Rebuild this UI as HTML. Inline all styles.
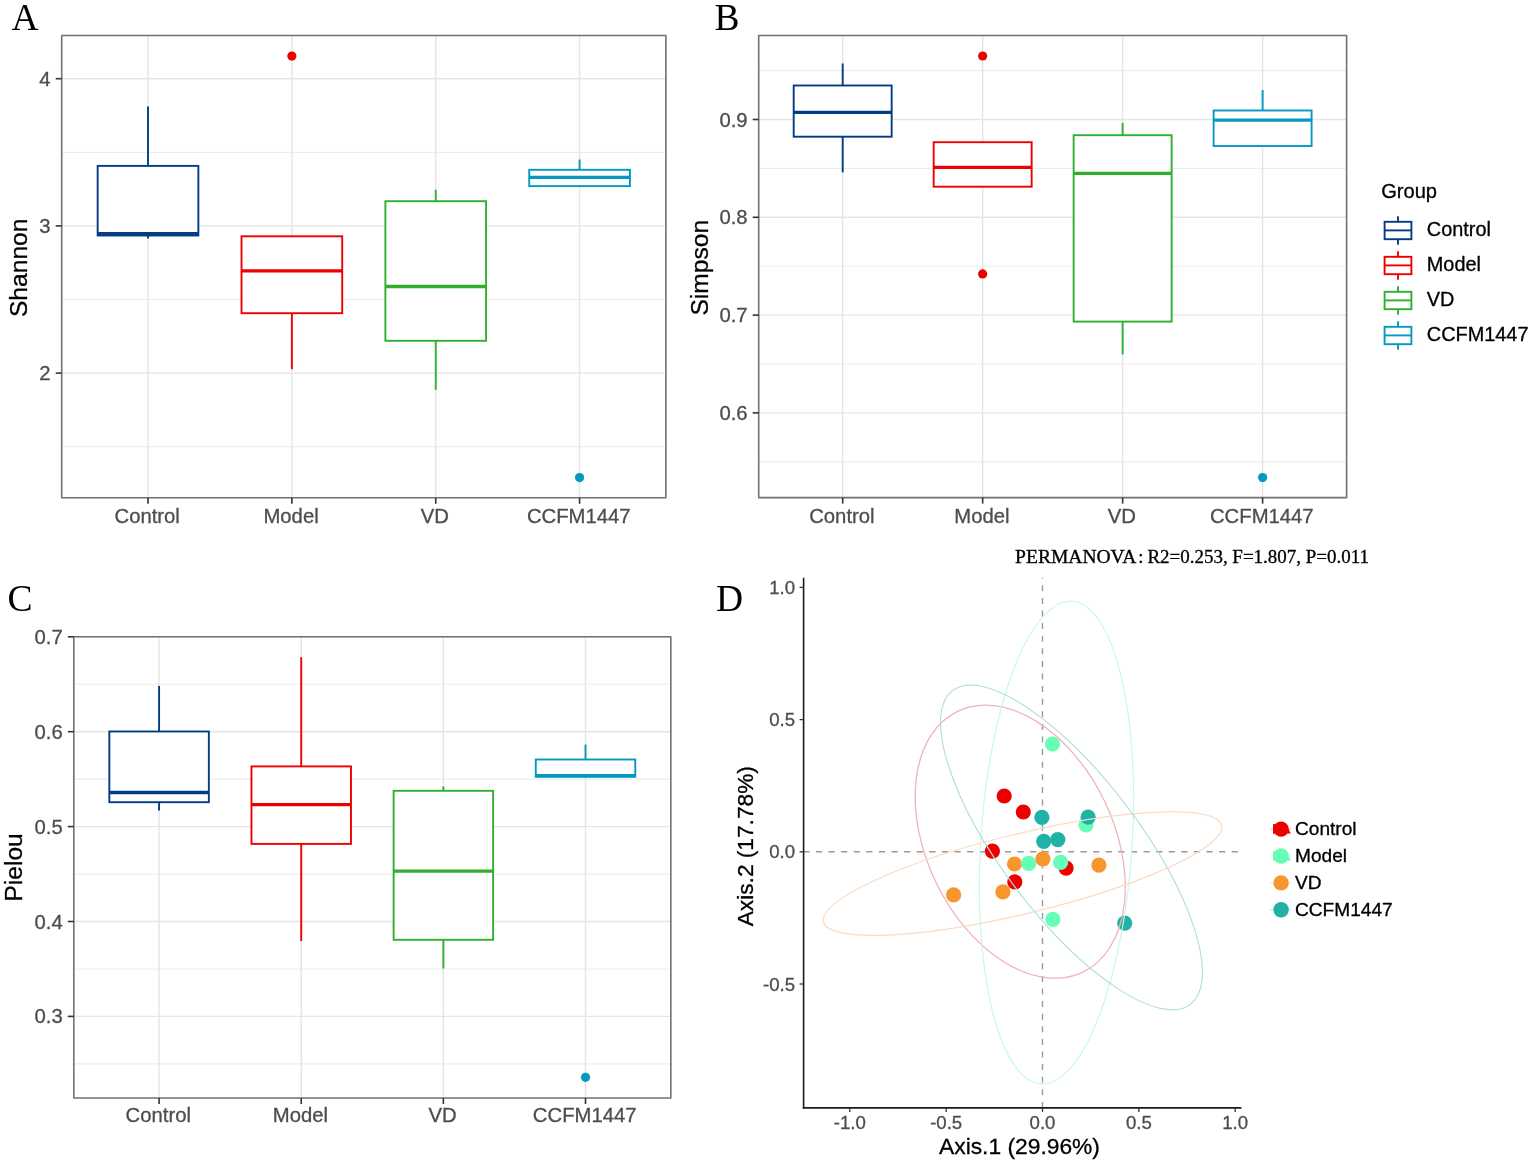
<!DOCTYPE html>
<html><head><meta charset="utf-8"><title>Figure</title>
<style>html,body{margin:0;padding:0;background:#fff;}svg{display:block;}</style></head>
<body><svg width="1535" height="1164" viewBox="0 0 1535 1164" font-family="'Liberation Sans', Arial, sans-serif">
<rect width="1535" height="1164" fill="#fff"/>
<line x1="61.7" x2="665.9" y1="446.7" y2="446.7" stroke="#ededed" stroke-width="1.15"/>
<line x1="61.7" x2="665.9" y1="299.5" y2="299.5" stroke="#ededed" stroke-width="1.15"/>
<line x1="61.7" x2="665.9" y1="152.3" y2="152.3" stroke="#ededed" stroke-width="1.15"/>
<line x1="61.7" x2="665.9" y1="373.1" y2="373.1" stroke="#e5e5e5" stroke-width="1.4"/>
<line x1="61.7" x2="665.9" y1="225.9" y2="225.9" stroke="#e5e5e5" stroke-width="1.4"/>
<line x1="61.7" x2="665.9" y1="78.7" y2="78.7" stroke="#e5e5e5" stroke-width="1.4"/>
<line x1="148.01" x2="148.01" y1="35.5" y2="497.8" stroke="#e5e5e5" stroke-width="1.4"/>
<line x1="291.87" x2="291.87" y1="35.5" y2="497.8" stroke="#e5e5e5" stroke-width="1.4"/>
<line x1="435.73" x2="435.73" y1="35.5" y2="497.8" stroke="#e5e5e5" stroke-width="1.4"/>
<line x1="579.59" x2="579.59" y1="35.5" y2="497.8" stroke="#e5e5e5" stroke-width="1.4"/>
<line x1="148.01" x2="148.01" y1="106.5" y2="165.9" stroke="#033c84" stroke-width="1.9"/>
<line x1="148.01" x2="148.01" y1="235.5" y2="238.5" stroke="#033c84" stroke-width="1.9"/>
<rect x="97.66" y="165.9" width="100.7" height="69.6" fill="#fff" stroke="#033c84" stroke-width="1.9"/>
<line x1="97.66" x2="198.36" y1="233.6" y2="233.6" stroke="#033c84" stroke-width="3.3"/>
<line x1="291.87" x2="291.87" y1="313.2" y2="369.2" stroke="#ee0000" stroke-width="1.9"/>
<rect x="241.52" y="236.3" width="100.7" height="76.9" fill="#fff" stroke="#ee0000" stroke-width="1.9"/>
<line x1="241.52" x2="342.22" y1="270.8" y2="270.8" stroke="#ee0000" stroke-width="3.3"/>
<circle cx="291.87" cy="56.1" r="4.6" fill="#ee0000"/>
<line x1="435.73" x2="435.73" y1="189.7" y2="201.2" stroke="#2eb02e" stroke-width="1.9"/>
<line x1="435.73" x2="435.73" y1="340.8" y2="389.8" stroke="#2eb02e" stroke-width="1.9"/>
<rect x="385.38" y="201.2" width="100.7" height="139.6" fill="#fff" stroke="#2eb02e" stroke-width="1.9"/>
<line x1="385.38" x2="486.08" y1="286.5" y2="286.5" stroke="#2eb02e" stroke-width="3.3"/>
<line x1="579.59" x2="579.59" y1="159.5" y2="169.8" stroke="#0399c0" stroke-width="1.9"/>
<rect x="529.24" y="169.8" width="100.7" height="16.3" fill="#fff" stroke="#0399c0" stroke-width="1.9"/>
<line x1="529.24" x2="629.94" y1="177.3" y2="177.3" stroke="#0399c0" stroke-width="3.3"/>
<circle cx="579.59" cy="477.6" r="4.6" fill="#0399c0"/>
<rect x="61.7" y="35.5" width="604.2" height="462.3" fill="none" stroke="#717171" stroke-width="1.6" stroke-linejoin="round"/>
<line x1="55.7" x2="61.7" y1="373.1" y2="373.1" stroke="#333333" stroke-width="1.6"/>
<text x="50.6" y="380.1" text-anchor="end" font-size="20.3" fill="#4d4d4d" stroke="#4d4d4d" stroke-width="0.3">2</text>
<line x1="55.7" x2="61.7" y1="225.9" y2="225.9" stroke="#333333" stroke-width="1.6"/>
<text x="50.6" y="232.9" text-anchor="end" font-size="20.3" fill="#4d4d4d" stroke="#4d4d4d" stroke-width="0.3">3</text>
<line x1="55.7" x2="61.7" y1="78.7" y2="78.7" stroke="#333333" stroke-width="1.6"/>
<text x="50.6" y="85.7" text-anchor="end" font-size="20.3" fill="#4d4d4d" stroke="#4d4d4d" stroke-width="0.3">4</text>
<line x1="148.01" x2="148.01" y1="497.8" y2="503.8" stroke="#333333" stroke-width="1.6"/>
<text x="147.21" y="522.9" text-anchor="middle" font-size="20.3" fill="#4d4d4d" stroke="#4d4d4d" stroke-width="0.3">Control</text>
<line x1="291.87" x2="291.87" y1="497.8" y2="503.8" stroke="#333333" stroke-width="1.6"/>
<text x="291.07" y="522.9" text-anchor="middle" font-size="20.3" fill="#4d4d4d" stroke="#4d4d4d" stroke-width="0.3">Model</text>
<line x1="435.73" x2="435.73" y1="497.8" y2="503.8" stroke="#333333" stroke-width="1.6"/>
<text x="434.93" y="522.9" text-anchor="middle" font-size="20.3" fill="#4d4d4d" stroke="#4d4d4d" stroke-width="0.3">VD</text>
<line x1="579.59" x2="579.59" y1="497.8" y2="503.8" stroke="#333333" stroke-width="1.6"/>
<text x="578.79" y="522.9" text-anchor="middle" font-size="20.3" fill="#4d4d4d" stroke="#4d4d4d" stroke-width="0.3">CCFM1447</text>
<text transform="translate(27,267.8) rotate(-90)" text-anchor="middle" font-size="24.6" fill="#000" stroke="#000" stroke-width="0.3">Shannon</text>
<line x1="758.7" x2="1346.6" y1="461.8" y2="461.8" stroke="#ededed" stroke-width="1.15"/>
<line x1="758.7" x2="1346.6" y1="364" y2="364" stroke="#ededed" stroke-width="1.15"/>
<line x1="758.7" x2="1346.6" y1="266.2" y2="266.2" stroke="#ededed" stroke-width="1.15"/>
<line x1="758.7" x2="1346.6" y1="168.4" y2="168.4" stroke="#ededed" stroke-width="1.15"/>
<line x1="758.7" x2="1346.6" y1="70.6" y2="70.6" stroke="#ededed" stroke-width="1.15"/>
<line x1="758.7" x2="1346.6" y1="412.9" y2="412.9" stroke="#e5e5e5" stroke-width="1.4"/>
<line x1="758.7" x2="1346.6" y1="315.1" y2="315.1" stroke="#e5e5e5" stroke-width="1.4"/>
<line x1="758.7" x2="1346.6" y1="217.3" y2="217.3" stroke="#e5e5e5" stroke-width="1.4"/>
<line x1="758.7" x2="1346.6" y1="119.5" y2="119.5" stroke="#e5e5e5" stroke-width="1.4"/>
<line x1="842.69" x2="842.69" y1="35.5" y2="497.6" stroke="#e5e5e5" stroke-width="1.4"/>
<line x1="982.66" x2="982.66" y1="35.5" y2="497.6" stroke="#e5e5e5" stroke-width="1.4"/>
<line x1="1122.64" x2="1122.64" y1="35.5" y2="497.6" stroke="#e5e5e5" stroke-width="1.4"/>
<line x1="1262.61" x2="1262.61" y1="35.5" y2="497.6" stroke="#e5e5e5" stroke-width="1.4"/>
<line x1="842.69" x2="842.69" y1="63.4" y2="85.5" stroke="#033c84" stroke-width="1.9"/>
<line x1="842.69" x2="842.69" y1="136.7" y2="172.4" stroke="#033c84" stroke-width="1.9"/>
<rect x="793.69" y="85.5" width="97.98" height="51.2" fill="#fff" stroke="#033c84" stroke-width="1.9"/>
<line x1="793.69" x2="891.68" y1="112.4" y2="112.4" stroke="#033c84" stroke-width="3.3"/>
<rect x="933.67" y="142.2" width="97.98" height="44.5" fill="#fff" stroke="#ee0000" stroke-width="1.9"/>
<line x1="933.67" x2="1031.65" y1="167.4" y2="167.4" stroke="#ee0000" stroke-width="3.3"/>
<circle cx="982.66" cy="56" r="4.6" fill="#ee0000"/>
<circle cx="982.66" cy="273.9" r="4.6" fill="#ee0000"/>
<line x1="1122.64" x2="1122.64" y1="123" y2="135.2" stroke="#2eb02e" stroke-width="1.9"/>
<line x1="1122.64" x2="1122.64" y1="321.6" y2="354.4" stroke="#2eb02e" stroke-width="1.9"/>
<rect x="1073.65" y="135.2" width="97.98" height="186.4" fill="#fff" stroke="#2eb02e" stroke-width="1.9"/>
<line x1="1073.65" x2="1171.63" y1="173.3" y2="173.3" stroke="#2eb02e" stroke-width="3.3"/>
<line x1="1262.61" x2="1262.61" y1="90.1" y2="110.5" stroke="#0399c0" stroke-width="1.9"/>
<rect x="1213.62" y="110.5" width="97.98" height="35.5" fill="#fff" stroke="#0399c0" stroke-width="1.9"/>
<line x1="1213.62" x2="1311.61" y1="120.2" y2="120.2" stroke="#0399c0" stroke-width="3.3"/>
<circle cx="1262.61" cy="477.6" r="4.6" fill="#0399c0"/>
<rect x="758.7" y="35.5" width="587.9" height="462.1" fill="none" stroke="#717171" stroke-width="1.6" stroke-linejoin="round"/>
<line x1="752.7" x2="758.7" y1="412.9" y2="412.9" stroke="#333333" stroke-width="1.6"/>
<text x="747.6" y="419.9" text-anchor="end" font-size="20.3" fill="#4d4d4d" stroke="#4d4d4d" stroke-width="0.3">0.6</text>
<line x1="752.7" x2="758.7" y1="315.1" y2="315.1" stroke="#333333" stroke-width="1.6"/>
<text x="747.6" y="322.1" text-anchor="end" font-size="20.3" fill="#4d4d4d" stroke="#4d4d4d" stroke-width="0.3">0.7</text>
<line x1="752.7" x2="758.7" y1="217.3" y2="217.3" stroke="#333333" stroke-width="1.6"/>
<text x="747.6" y="224.3" text-anchor="end" font-size="20.3" fill="#4d4d4d" stroke="#4d4d4d" stroke-width="0.3">0.8</text>
<line x1="752.7" x2="758.7" y1="119.5" y2="119.5" stroke="#333333" stroke-width="1.6"/>
<text x="747.6" y="126.5" text-anchor="end" font-size="20.3" fill="#4d4d4d" stroke="#4d4d4d" stroke-width="0.3">0.9</text>
<line x1="842.69" x2="842.69" y1="497.6" y2="503.6" stroke="#333333" stroke-width="1.6"/>
<text x="841.89" y="522.9" text-anchor="middle" font-size="20.3" fill="#4d4d4d" stroke="#4d4d4d" stroke-width="0.3">Control</text>
<line x1="982.66" x2="982.66" y1="497.6" y2="503.6" stroke="#333333" stroke-width="1.6"/>
<text x="981.86" y="522.9" text-anchor="middle" font-size="20.3" fill="#4d4d4d" stroke="#4d4d4d" stroke-width="0.3">Model</text>
<line x1="1122.64" x2="1122.64" y1="497.6" y2="503.6" stroke="#333333" stroke-width="1.6"/>
<text x="1121.84" y="522.9" text-anchor="middle" font-size="20.3" fill="#4d4d4d" stroke="#4d4d4d" stroke-width="0.3">VD</text>
<line x1="1262.61" x2="1262.61" y1="497.6" y2="503.6" stroke="#333333" stroke-width="1.6"/>
<text x="1261.81" y="522.9" text-anchor="middle" font-size="20.3" fill="#4d4d4d" stroke="#4d4d4d" stroke-width="0.3">CCFM1447</text>
<text transform="translate(707.6,267.7) rotate(-90)" text-anchor="middle" font-size="24.6" fill="#000" stroke="#000" stroke-width="0.3">Simpson</text>
<line x1="73.8" x2="670.8" y1="1063.85" y2="1063.85" stroke="#ededed" stroke-width="1.15"/>
<line x1="73.8" x2="670.8" y1="968.95" y2="968.95" stroke="#ededed" stroke-width="1.15"/>
<line x1="73.8" x2="670.8" y1="874.05" y2="874.05" stroke="#ededed" stroke-width="1.15"/>
<line x1="73.8" x2="670.8" y1="779.15" y2="779.15" stroke="#ededed" stroke-width="1.15"/>
<line x1="73.8" x2="670.8" y1="684.25" y2="684.25" stroke="#ededed" stroke-width="1.15"/>
<line x1="73.8" x2="670.8" y1="1016.4" y2="1016.4" stroke="#e5e5e5" stroke-width="1.4"/>
<line x1="73.8" x2="670.8" y1="921.5" y2="921.5" stroke="#e5e5e5" stroke-width="1.4"/>
<line x1="73.8" x2="670.8" y1="826.6" y2="826.6" stroke="#e5e5e5" stroke-width="1.4"/>
<line x1="73.8" x2="670.8" y1="731.7" y2="731.7" stroke="#e5e5e5" stroke-width="1.4"/>
<line x1="73.8" x2="670.8" y1="636.8" y2="636.8" stroke="#e5e5e5" stroke-width="1.4"/>
<line x1="159.09" x2="159.09" y1="636.7" y2="1098" stroke="#e5e5e5" stroke-width="1.4"/>
<line x1="301.23" x2="301.23" y1="636.7" y2="1098" stroke="#e5e5e5" stroke-width="1.4"/>
<line x1="443.37" x2="443.37" y1="636.7" y2="1098" stroke="#e5e5e5" stroke-width="1.4"/>
<line x1="585.51" x2="585.51" y1="636.7" y2="1098" stroke="#e5e5e5" stroke-width="1.4"/>
<line x1="159.09" x2="159.09" y1="685.9" y2="731.5" stroke="#033c84" stroke-width="1.9"/>
<line x1="159.09" x2="159.09" y1="802.2" y2="810.5" stroke="#033c84" stroke-width="1.9"/>
<rect x="109.34" y="731.5" width="99.5" height="70.7" fill="#fff" stroke="#033c84" stroke-width="1.9"/>
<line x1="109.34" x2="208.84" y1="792.5" y2="792.5" stroke="#033c84" stroke-width="3.3"/>
<line x1="301.23" x2="301.23" y1="657.2" y2="766.4" stroke="#ee0000" stroke-width="1.9"/>
<line x1="301.23" x2="301.23" y1="843.9" y2="941.1" stroke="#ee0000" stroke-width="1.9"/>
<rect x="251.48" y="766.4" width="99.5" height="77.5" fill="#fff" stroke="#ee0000" stroke-width="1.9"/>
<line x1="251.48" x2="350.98" y1="804.7" y2="804.7" stroke="#ee0000" stroke-width="3.3"/>
<line x1="443.37" x2="443.37" y1="786.5" y2="790.8" stroke="#2eb02e" stroke-width="1.9"/>
<line x1="443.37" x2="443.37" y1="939.8" y2="968.6" stroke="#2eb02e" stroke-width="1.9"/>
<rect x="393.62" y="790.8" width="99.5" height="149" fill="#fff" stroke="#2eb02e" stroke-width="1.9"/>
<line x1="393.62" x2="493.12" y1="871.2" y2="871.2" stroke="#2eb02e" stroke-width="3.3"/>
<line x1="585.51" x2="585.51" y1="744.6" y2="759.5" stroke="#0399c0" stroke-width="1.9"/>
<rect x="535.76" y="759.5" width="99.5" height="17.3" fill="#fff" stroke="#0399c0" stroke-width="1.9"/>
<line x1="535.76" x2="635.26" y1="775.6" y2="775.6" stroke="#0399c0" stroke-width="3.3"/>
<circle cx="585.51" cy="1077.3" r="4.6" fill="#0399c0"/>
<rect x="73.8" y="636.7" width="597" height="461.3" fill="none" stroke="#717171" stroke-width="1.6" stroke-linejoin="round"/>
<line x1="67.8" x2="73.8" y1="1016.4" y2="1016.4" stroke="#333333" stroke-width="1.6"/>
<text x="62.7" y="1023.4" text-anchor="end" font-size="20.3" fill="#4d4d4d" stroke="#4d4d4d" stroke-width="0.3">0.3</text>
<line x1="67.8" x2="73.8" y1="921.5" y2="921.5" stroke="#333333" stroke-width="1.6"/>
<text x="62.7" y="928.5" text-anchor="end" font-size="20.3" fill="#4d4d4d" stroke="#4d4d4d" stroke-width="0.3">0.4</text>
<line x1="67.8" x2="73.8" y1="826.6" y2="826.6" stroke="#333333" stroke-width="1.6"/>
<text x="62.7" y="833.6" text-anchor="end" font-size="20.3" fill="#4d4d4d" stroke="#4d4d4d" stroke-width="0.3">0.5</text>
<line x1="67.8" x2="73.8" y1="731.7" y2="731.7" stroke="#333333" stroke-width="1.6"/>
<text x="62.7" y="738.7" text-anchor="end" font-size="20.3" fill="#4d4d4d" stroke="#4d4d4d" stroke-width="0.3">0.6</text>
<line x1="67.8" x2="73.8" y1="636.8" y2="636.8" stroke="#333333" stroke-width="1.6"/>
<text x="62.7" y="643.8" text-anchor="end" font-size="20.3" fill="#4d4d4d" stroke="#4d4d4d" stroke-width="0.3">0.7</text>
<line x1="159.09" x2="159.09" y1="1098" y2="1104" stroke="#333333" stroke-width="1.6"/>
<text x="158.29" y="1122.4" text-anchor="middle" font-size="20.3" fill="#4d4d4d" stroke="#4d4d4d" stroke-width="0.3">Control</text>
<line x1="301.23" x2="301.23" y1="1098" y2="1104" stroke="#333333" stroke-width="1.6"/>
<text x="300.43" y="1122.4" text-anchor="middle" font-size="20.3" fill="#4d4d4d" stroke="#4d4d4d" stroke-width="0.3">Model</text>
<line x1="443.37" x2="443.37" y1="1098" y2="1104" stroke="#333333" stroke-width="1.6"/>
<text x="442.57" y="1122.4" text-anchor="middle" font-size="20.3" fill="#4d4d4d" stroke="#4d4d4d" stroke-width="0.3">VD</text>
<line x1="585.51" x2="585.51" y1="1098" y2="1104" stroke="#333333" stroke-width="1.6"/>
<text x="584.71" y="1122.4" text-anchor="middle" font-size="20.3" fill="#4d4d4d" stroke="#4d4d4d" stroke-width="0.3">CCFM1447</text>
<text transform="translate(22,867.4) rotate(-90)" text-anchor="middle" font-size="24.6" fill="#000" stroke="#000" stroke-width="0.3">Pielou</text>
<text x="1381.2" y="197.8" font-size="20.1" fill="#000" stroke="#000" stroke-width="0.3">Group</text>
<line x1="1398" x2="1398" y1="216.2" y2="244.8" stroke="#033c84" stroke-width="1.9"/>
<rect x="1384.6" y="221.8" width="26.8" height="17.4" fill="#fff" stroke="#033c84" stroke-width="1.9"/>
<line x1="1384.6" x2="1411.4" y1="230.4" y2="230.4" stroke="#033c84" stroke-width="1.9"/>
<text x="1426.8" y="236.2" font-size="19.9" fill="#000" stroke="#000" stroke-width="0.3">Control</text>
<line x1="1398" x2="1398" y1="251.2" y2="279.8" stroke="#ee0000" stroke-width="1.9"/>
<rect x="1384.6" y="256.8" width="26.8" height="17.4" fill="#fff" stroke="#ee0000" stroke-width="1.9"/>
<line x1="1384.6" x2="1411.4" y1="265.4" y2="265.4" stroke="#ee0000" stroke-width="1.9"/>
<text x="1426.8" y="271.2" font-size="19.9" fill="#000" stroke="#000" stroke-width="0.3">Model</text>
<line x1="1398" x2="1398" y1="286.2" y2="314.8" stroke="#2eb02e" stroke-width="1.9"/>
<rect x="1384.6" y="291.8" width="26.8" height="17.4" fill="#fff" stroke="#2eb02e" stroke-width="1.9"/>
<line x1="1384.6" x2="1411.4" y1="300.4" y2="300.4" stroke="#2eb02e" stroke-width="1.9"/>
<text x="1426.8" y="306.2" font-size="19.9" fill="#000" stroke="#000" stroke-width="0.3">VD</text>
<line x1="1398" x2="1398" y1="321.2" y2="349.8" stroke="#0399c0" stroke-width="1.9"/>
<rect x="1384.6" y="326.8" width="26.8" height="17.4" fill="#fff" stroke="#0399c0" stroke-width="1.9"/>
<line x1="1384.6" x2="1411.4" y1="335.4" y2="335.4" stroke="#0399c0" stroke-width="1.9"/>
<text x="1426.8" y="341.2" font-size="19.9" fill="#000" stroke="#000" stroke-width="0.3">CCFM1447</text>
<text x="11.5" y="30.2" font-size="37.5" font-family="'Liberation Serif', 'Times New Roman', serif" fill="#000">A</text>
<text x="714.5" y="30.2" font-size="37.5" font-family="'Liberation Serif', 'Times New Roman', serif" fill="#000">B</text>
<text x="7.5" y="610.6" font-size="37.5" font-family="'Liberation Serif', 'Times New Roman', serif" fill="#000">C</text>
<text x="716" y="611.3" font-size="37.5" font-family="'Liberation Serif', 'Times New Roman', serif" fill="#000">D</text>
<g font-family="'Liberation Serif', 'Times New Roman', serif" font-size="18.7" fill="#000" stroke="#000" stroke-width="0.3"><text x="1015.1" y="562.8" textLength="121.2" lengthAdjust="spacingAndGlyphs" stroke="#000" stroke-width="0.3">PERMANOVA</text><text x="1138.3" y="562.8" stroke="#000" stroke-width="0.3">:</text><text x="1147.4" y="562.8" textLength="221.6" lengthAdjust="spacingAndGlyphs" stroke="#000" stroke-width="0.3">R2=0.253, F=1.807, P=0.011</text></g>
<line x1="803.3" x2="1240" y1="851.8" y2="851.8" stroke="#9a9a9a" stroke-width="1.4" stroke-dasharray="6.2 6.4"/>
<line x1="1042.5" x2="1042.5" y1="1107.9" y2="577.8" stroke="#9a9a9a" stroke-width="1.4" stroke-dasharray="6 6.6"/>
<circle cx="1014.5" cy="864" r="7.6" fill="#f8962e"/>
<circle cx="1042.9" cy="858.9" r="7.6" fill="#f8962e"/>
<circle cx="1098.9" cy="865.1" r="7.6" fill="#f8962e"/>
<circle cx="1002.9" cy="891.9" r="7.6" fill="#f8962e"/>
<circle cx="953.6" cy="894.9" r="7.6" fill="#f8962e"/>
<circle cx="1004.2" cy="796" r="7.6" fill="#ef0000"/>
<circle cx="1023.3" cy="812" r="7.6" fill="#ef0000"/>
<circle cx="992.4" cy="851.1" r="7.6" fill="#ef0000"/>
<circle cx="1066.1" cy="868.1" r="7.6" fill="#ef0000"/>
<circle cx="1014.8" cy="881.9" r="7.6" fill="#ef0000"/>
<circle cx="1052.5" cy="744" r="7.6" fill="#66fdb6"/>
<circle cx="1086" cy="824.9" r="7.6" fill="#66fdb6"/>
<circle cx="1028.7" cy="863.3" r="7.6" fill="#66fdb6"/>
<circle cx="1060.6" cy="862.3" r="7.6" fill="#66fdb6"/>
<circle cx="1052.9" cy="919.4" r="7.6" fill="#66fdb6"/>
<circle cx="1041.9" cy="817.3" r="7.6" fill="#20b2a6"/>
<circle cx="1088.1" cy="817.2" r="7.6" fill="#20b2a6"/>
<circle cx="1043.7" cy="841.3" r="7.6" fill="#20b2a6"/>
<circle cx="1057.8" cy="839.6" r="7.6" fill="#20b2a6"/>
<circle cx="1124.7" cy="923.2" r="7.6" fill="#20b2a6"/>
<ellipse cx="1020.25" cy="841.7" rx="144.6" ry="93.58" transform="rotate(64.345 1020.25 841.7)" fill="none" stroke="#f1b3b8" stroke-width="1.3"/>
<ellipse cx="1056.45" cy="842.6" rx="241.85" ry="75.72" transform="rotate(93.694 1056.45 842.6)" fill="none" stroke="#c9f8e4" stroke-width="1.2"/>
<ellipse cx="1022.5" cy="873.55" rx="204.83" ry="39.89" transform="rotate(166.392 1022.5 873.55)" fill="none" stroke="#f8dcc5" stroke-width="1.2"/>
<ellipse cx="1071.5" cy="847.45" rx="196.87" ry="69" transform="rotate(52.847 1071.5 847.45)" fill="none" stroke="#b0e0da" stroke-width="1.15"/>
<line x1="803.6" x2="803.6" y1="577.8" y2="1108.6" stroke="#1a1a1a" stroke-width="1.6"/>
<line x1="802.8" x2="1241.4" y1="1107.9" y2="1107.9" stroke="#1a1a1a" stroke-width="1.6"/>
<line x1="799.6" x2="803.6" y1="587.4" y2="587.4" stroke="#333" stroke-width="1.3"/>
<text x="795" y="594" text-anchor="end" font-size="18.6" fill="#4d4d4d" stroke="#4d4d4d" stroke-width="0.3">1.0</text>
<line x1="799.6" x2="803.6" y1="719.6" y2="719.6" stroke="#333" stroke-width="1.3"/>
<text x="795" y="726.2" text-anchor="end" font-size="18.6" fill="#4d4d4d" stroke="#4d4d4d" stroke-width="0.3">0.5</text>
<line x1="799.6" x2="803.6" y1="851.8" y2="851.8" stroke="#333" stroke-width="1.3"/>
<text x="795" y="858.4" text-anchor="end" font-size="18.6" fill="#4d4d4d" stroke="#4d4d4d" stroke-width="0.3">0.0</text>
<line x1="799.6" x2="803.6" y1="984" y2="984" stroke="#333" stroke-width="1.3"/>
<text x="795" y="990.6" text-anchor="end" font-size="18.6" fill="#4d4d4d" stroke="#4d4d4d" stroke-width="0.3">-0.5</text>
<line x1="849.8" x2="849.8" y1="1107.9" y2="1111.9" stroke="#333" stroke-width="1.3"/>
<text x="849.8" y="1128.8" text-anchor="middle" font-size="18.6" fill="#4d4d4d" stroke="#4d4d4d" stroke-width="0.3">-1.0</text>
<line x1="946.15" x2="946.15" y1="1107.9" y2="1111.9" stroke="#333" stroke-width="1.3"/>
<text x="946.15" y="1128.8" text-anchor="middle" font-size="18.6" fill="#4d4d4d" stroke="#4d4d4d" stroke-width="0.3">-0.5</text>
<line x1="1042.5" x2="1042.5" y1="1107.9" y2="1111.9" stroke="#333" stroke-width="1.3"/>
<text x="1042.5" y="1128.8" text-anchor="middle" font-size="18.6" fill="#4d4d4d" stroke="#4d4d4d" stroke-width="0.3">0.0</text>
<line x1="1138.85" x2="1138.85" y1="1107.9" y2="1111.9" stroke="#333" stroke-width="1.3"/>
<text x="1138.85" y="1128.8" text-anchor="middle" font-size="18.6" fill="#4d4d4d" stroke="#4d4d4d" stroke-width="0.3">0.5</text>
<line x1="1235.2" x2="1235.2" y1="1107.9" y2="1111.9" stroke="#333" stroke-width="1.3"/>
<text x="1235.2" y="1128.8" text-anchor="middle" font-size="18.6" fill="#4d4d4d" stroke="#4d4d4d" stroke-width="0.3">1.0</text>
<text x="1019.5" y="1153.5" text-anchor="middle" font-size="22.8" fill="#000" stroke="#000" stroke-width="0.3">Axis.1 (29.96%)</text>
<text transform="translate(752.8,846.2) rotate(-90)" text-anchor="middle" font-size="22.7" fill="#000" stroke="#000" stroke-width="0.3">Axis.2 (17.78%)</text>
<line x1="1270.3" x2="1291.4" y1="829.1" y2="829.1" stroke="#f1b3b8" stroke-width="1"/>
<circle cx="1281.1" cy="829.1" r="7.7" fill="#ef0000"/>
<rect x="1273" y="824.1" width="7" height="9.6" fill="#ef0000"/>
<polygon points="1287,826.1 1290.8,833.5 1285.5,833.5" fill="#ef0000"/>
<text x="1295.0" y="835.3" font-size="19.1" fill="#000" stroke="#000" stroke-width="0.3">Control</text>
<line x1="1270.3" x2="1291.4" y1="856" y2="856" stroke="#c9f8e4" stroke-width="1"/>
<circle cx="1281.1" cy="856" r="7.7" fill="#66fdb6"/>
<rect x="1273" y="851" width="7" height="9.6" fill="#66fdb6"/>
<polygon points="1287,853 1290.8,860.4 1285.5,860.4" fill="#66fdb6"/>
<text x="1295.0" y="862.2" font-size="19.1" fill="#000" stroke="#000" stroke-width="0.3">Model</text>
<line x1="1270.3" x2="1291.4" y1="882.9" y2="882.9" stroke="#f8dcc5" stroke-width="1"/>
<circle cx="1281.1" cy="882.9" r="7.7" fill="#f8962e"/>
<text x="1295.0" y="889.1" font-size="19.1" fill="#000" stroke="#000" stroke-width="0.3">VD</text>
<line x1="1270.3" x2="1291.4" y1="909.8" y2="909.8" stroke="#b0e0da" stroke-width="1"/>
<circle cx="1281.1" cy="909.8" r="7.7" fill="#20b2a6"/>
<text x="1295.0" y="916" font-size="19.1" fill="#000" stroke="#000" stroke-width="0.3">CCFM1447</text>
</svg></body></html>
